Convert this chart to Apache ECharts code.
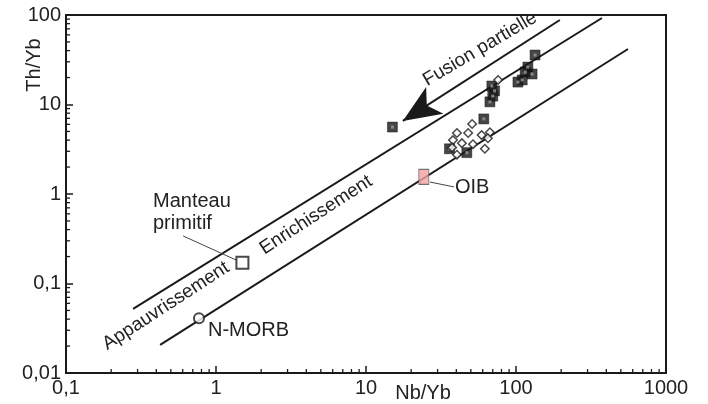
<!DOCTYPE html>
<html>
<head>
<meta charset="utf-8">
<script src="https://cdn.jsdelivr.net/npm/echarts@6/dist/echarts.min.js"></script>
<style>
html,body{margin:0;padding:0;background:#fff;}
#chart{width:708px;height:404px;}
</style>
</head>
<body>
<div id="chart"></div>
<script>
// ---- Data ----
const xTickLabels = ['0,1', '1', '10', '100', '1000'];
const yTickLabels = ['0,01', '0,1', '1', '10', '100'];

// filled squares (Nb/Yb, Th/Yb)
const squaresNbYb = [15, 61, 69, 72, 70, 67, 134, 120, 128, 115, 110, 103, 36, 47];
const squaresThYb = [5.6, 6.9, 16.1, 14.2, 12.4, 10.7, 35.7, 26.2, 21.9, 23.1, 18.8, 17.8, 3.2, 2.9];

// open diamonds
const diamondsNbYb = [51, 40.4, 48, 38, 43.6, 59, 67, 65, 51.7, 62, 40.4, 76, 37.5];
const diamondsThYb = [6.05, 4.8, 4.8, 4.0, 3.7, 4.55, 4.9, 4.2, 3.6, 3.2, 2.75, 18.8, 3.3];

// reference compositions
const primitiveMantle = [1.5, 0.17];
const nMorb = [0.77, 0.041];
const oib = [24.3, 1.55];

// array boundary lines and melting arrow
const upperLine = [[0.28, 0.052], [374, 92.6]];
const lowerLine = [[0.424, 0.0206], [558, 41.7]];
const arrowLine = [[196, 88], [17.6, 6.55]];
const mantleLeader = [[0.603, 0.34], [1.36, 0.183]];
const oibLeader = [[26.7, 1.36], [38.6, 1.2]];

// ---- Chart ----
const FONT = '"Liberation Sans", Arial, sans-serif';
const INK = '#1a1a1a';

const minorX = [], minorY = [];
[0.1, 1, 10, 100].forEach(d => { for (let k = 2; k <= 9; k++) minorX.push(+(d * k).toPrecision(3)); });
[0.01, 0.1, 1, 10].forEach(d => { for (let k = 2; k <= 9; k++) minorY.push(+(d * k).toPrecision(3)); });

const zip = (a, b) => a.map((v, i) => [v, b[i]]);

const chart = echarts.init(document.getElementById('chart'), null, {renderer: 'canvas'});

const option = {
  animation: false,
  backgroundColor: '#fff',
  grid: {left: 66, top: 15, width: 600, height: 358, show: true, borderColor: INK, borderWidth: 2, backgroundColor: 'transparent'},
  xAxis: {
    type: 'log', logBase: 10, min: 0.1, max: 1000,
    axisLine: {show: true, lineStyle: {color: INK, width: 2}},
    axisTick: {show: true, inside: true, length: 7, lineStyle: {color: INK, width: 1.5}},
    axisLabel: {
      show: true, interval: 0, showMinLabel: true, showMaxLabel: true, margin: 5,
      fontSize: 20, fontFamily: FONT, color: '#222',
      formatter: v => xTickLabels[Math.round(Math.log10(v)) + 1]
    },
    splitLine: {show: false}
  },
  yAxis: {
    type: 'log', logBase: 10, min: 0.01, max: 100,
    axisLine: {show: true, lineStyle: {color: INK, width: 2}},
    axisTick: {show: true, inside: true, length: 7, lineStyle: {color: INK, width: 1.5}},
    axisLabel: {
      show: true, interval: 0, showMinLabel: true, showMaxLabel: true, margin: 5,
      fontSize: 20, fontFamily: FONT, color: '#222',
      formatter: v => yTickLabels[Math.round(Math.log10(v)) + 2]
    },
    splitLine: {show: false}
  },
  series: [
    {
      type: 'custom', coordinateSystem: 'cartesian2d', silent: true, clip: false,
      data: minorX.map(v => [v, 0.01]),
      renderItem: (params, api) => {
        const p = api.coord([api.value(0), api.value(1)]);
        return {type: 'line', shape: {x1: p[0], y1: p[1], x2: p[0], y2: p[1] - 4}, style: {stroke: INK, lineWidth: 1.3}};
      }
    },
    {
      type: 'custom', coordinateSystem: 'cartesian2d', silent: true, clip: false,
      data: minorY.map(v => [0.1, v]),
      renderItem: (params, api) => {
        const p = api.coord([api.value(0), api.value(1)]);
        return {type: 'line', shape: {x1: p[0], y1: p[1], x2: p[0] + 4, y2: p[1]}, style: {stroke: INK, lineWidth: 1.3}};
      }
    },
    {
      type: 'line', data: upperLine, showSymbol: false, silent: true,
      lineStyle: {color: INK, width: 2},
      markLine: {
        silent: true, animation: false,
        symbol: ['none', 'arrow'], symbolSize: [24, 38],
        label: {show: false},
        lineStyle: {type: 'solid', color: INK, width: 2},
        data: [[{coord: arrowLine[0]}, {coord: arrowLine[1]}]]
      }
    },
    {
      type: 'line', data: lowerLine, showSymbol: false, silent: true,
      lineStyle: {color: INK, width: 2},
      markLine: {
        silent: true, animation: false,
        symbol: ['none', 'none'],
        label: {show: false},
        lineStyle: {type: 'solid', color: '#444', width: 1},
        data: [
          [{coord: mantleLeader[0]}, {coord: mantleLeader[1]}],
          [{coord: oibLeader[0]}, {coord: oibLeader[1]}]
        ]
      }
    },
    {
      type: 'scatter', data: zip(squaresNbYb, squaresThYb), symbol: 'rect', symbolSize: 10,
      itemStyle: {color: '#161616', borderColor: '#000', borderWidth: 0.5}, z: 3
    },
    {
      type: 'scatter', data: zip(squaresNbYb, squaresThYb), symbol: 'rect', symbolSize: 3,
      itemStyle: {color: '#9a9a9a'}, z: 4
    },
    {
      type: 'scatter', data: zip(diamondsNbYb, diamondsThYb), symbol: 'rect', symbolRotate: 45, symbolSize: 6,
      itemStyle: {color: '#fff', borderColor: INK, borderWidth: 1.5}, z: 5
    },
    {
      type: 'scatter', data: [primitiveMantle], symbol: 'rect', symbolSize: 12,
      itemStyle: {color: '#fff', borderColor: INK, borderWidth: 2}, z: 5
    },
    {
      type: 'scatter', data: [nMorb], symbol: 'circle', symbolSize: 10,
      itemStyle: {color: '#fff', borderColor: INK, borderWidth: 2}, z: 5
    },
    {
      type: 'scatter', data: [oib], symbol: 'rect', symbolSize: [10, 15],
      itemStyle: {color: '#f4a3a3', borderColor: '#555', borderWidth: 1}, z: 5
    }
  ],
  graphic: [
    {type: 'text', x: 34, y: 65, rotation: Math.PI / 2, style: {text: 'Th/Yb', font: '20px ' + FONT, fill: '#222', align: 'center', verticalAlign: 'middle'}},
    {type: 'text', x: 423, y: 393, style: {text: 'Nb/Yb', font: '20px ' + FONT, fill: '#222', align: 'center', verticalAlign: 'middle'}},
    {type: 'text', x: 480, y: 49, rotation: 30.5 * Math.PI / 180, style: {text: 'Fusion partielle', font: '19px ' + FONT, fill: '#222', align: 'center', verticalAlign: 'middle'}},
    {type: 'text', x: 166, y: 306, rotation: 33 * Math.PI / 180, style: {text: 'Appauvrissement', font: '19px ' + FONT, fill: '#222', align: 'center', verticalAlign: 'middle'}},
    {type: 'text', x: 316, y: 215, rotation: 33 * Math.PI / 180, style: {text: 'Enrichissement', font: '19px ' + FONT, fill: '#222', align: 'center', verticalAlign: 'middle'}},
    {type: 'text', x: 153, y: 190, style: {text: 'Manteau\nprimitif', font: '20px ' + FONT, lineHeight: 22, fill: '#222', align: 'left', verticalAlign: 'top'}},
    {type: 'text', x: 208, y: 330, style: {text: 'N-MORB', font: '20px ' + FONT, fill: '#222', align: 'left', verticalAlign: 'middle'}},
    {type: 'text', x: 455, y: 187, style: {text: 'OIB', font: '20px ' + FONT, fill: '#222', align: 'left', verticalAlign: 'middle'}}
  ]
};
chart.setOption(option);
</script>
</body>
</html>
